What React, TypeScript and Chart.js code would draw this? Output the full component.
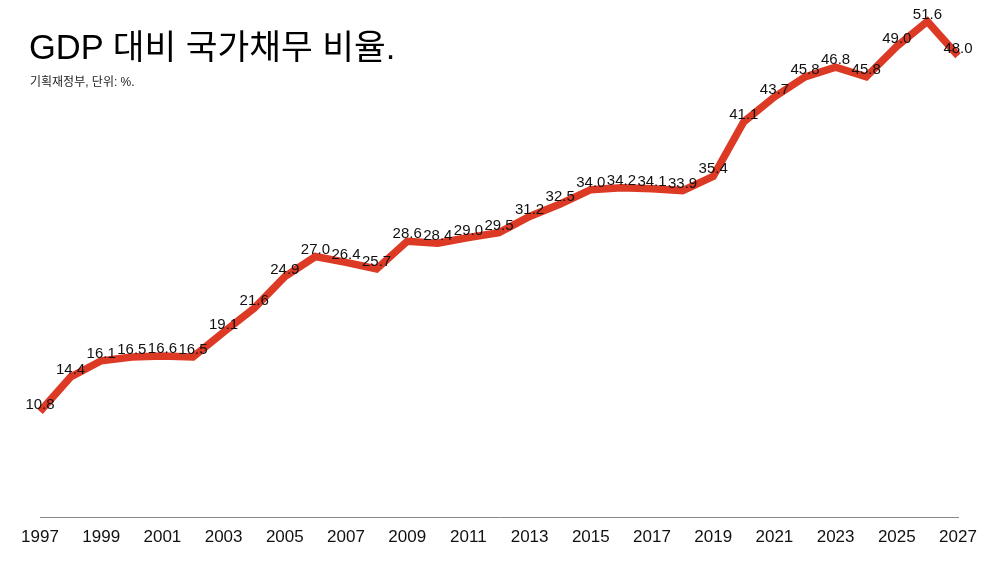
import { useEffect, useRef } from "react";
import Chart from "chart.js/auto";

const years = [
  "1997", "1998", "1999", "2000", "2001", "2002", "2003", "2004", "2005", "2006",
  "2007", "2008", "2009", "2010", "2011", "2012", "2013", "2014", "2015", "2016",
  "2017", "2018", "2019", "2020", "2021", "2022", "2023", "2024", "2025", "2026", "2027",
];
const debtRatio = [
  10.8, 14.4, 16.1, 16.5, 16.6, 16.5, 19.1, 21.6, 24.9, 27.0,
  26.4, 25.7, 28.6, 28.4, 29.0, 29.5, 31.2, 32.5, 34.0, 34.2,
  34.1, 33.9, 35.4, 41.1, 43.7, 45.8, 46.8, 45.8, 49.0, 51.6, 48.0,
];

const FONT = "'Liberation Sans', Arial, 'Noto Sans CJK KR', sans-serif";

// value labels drawn over the line
const valueLabels = {
  id: "valueLabels",
  afterDatasetsDraw(chart: Chart) {
    const ctx = chart.ctx;
    const meta = chart.getDatasetMeta(0);
    ctx.save();
    ctx.font = `15px ${FONT}`;
    ctx.fillStyle = "#111";
    ctx.textAlign = "center";
    ctx.textBaseline = "middle";
    meta.data.forEach((pt, i) => {
      ctx.fillText(debtRatio[i].toFixed(1), pt.x, pt.y - 7);
    });
    ctx.restore();
  },
};

export default function App() {
  const canvasRef = useRef<HTMLCanvasElement>(null);
  const chartRef = useRef<Chart | null>(null);

  useEffect(() => {
    document.body.style.margin = "0";
    if (!canvasRef.current) return;
    if (chartRef.current) chartRef.current.destroy();

    chartRef.current = new Chart(canvasRef.current, {
      type: "line",
      data: {
        labels: years,
        datasets: [
          {
            data: debtRatio,
            borderColor: "#dd3a26",
            borderWidth: 7.5,
            borderJoinStyle: "miter",
            pointRadius: 0,
            tension: 0,
            fill: false,
          },
        ],
      },
      options: {
        animation: false,
        responsive: false,
        layout: { padding: { left: 40, right: 42, top: 8, bottom: 5 } },
        plugins: {
          legend: { display: false },
          tooltip: { enabled: false },
        },
        scales: {
          x: {
            offset: false,
            grid: { display: false, drawTicks: false },
            border: { display: true, color: "#888", width: 1 },
            ticks: {
              padding: 10,
              autoSkip: false,
              maxRotation: 0,
              color: "#111",
              font: { size: 17, family: FONT },
              callback: (_v, i) => (i % 2 === 0 ? years[i] : ""),
            },
          },
          y: {
            display: false,
            min: -0.3,
            max: 53,
          },
        },
      },
      plugins: [valueLabels],
    });

    return () => {
      if (chartRef.current) chartRef.current.destroy();
      chartRef.current = null;
    };
  }, []);

  return (
    <div style={{ position: "relative", width: 1000, height: 563, fontFamily: FONT, color: "#000" }}>
      <canvas ref={canvasRef} width={1000} height={563} style={{ position: "absolute", left: 0, top: 0 }} />
      <div style={{ position: "absolute", left: 29, top: 27, fontSize: 34.5, lineHeight: "40px" }}>
        GDP 대비 국가채무 비율.
      </div>
      <div style={{ position: "absolute", left: 30, top: 74, fontSize: 12, lineHeight: "16px", color: "#222" }}>
        기획재정부, 단위: %.
      </div>
    </div>
  );
}
